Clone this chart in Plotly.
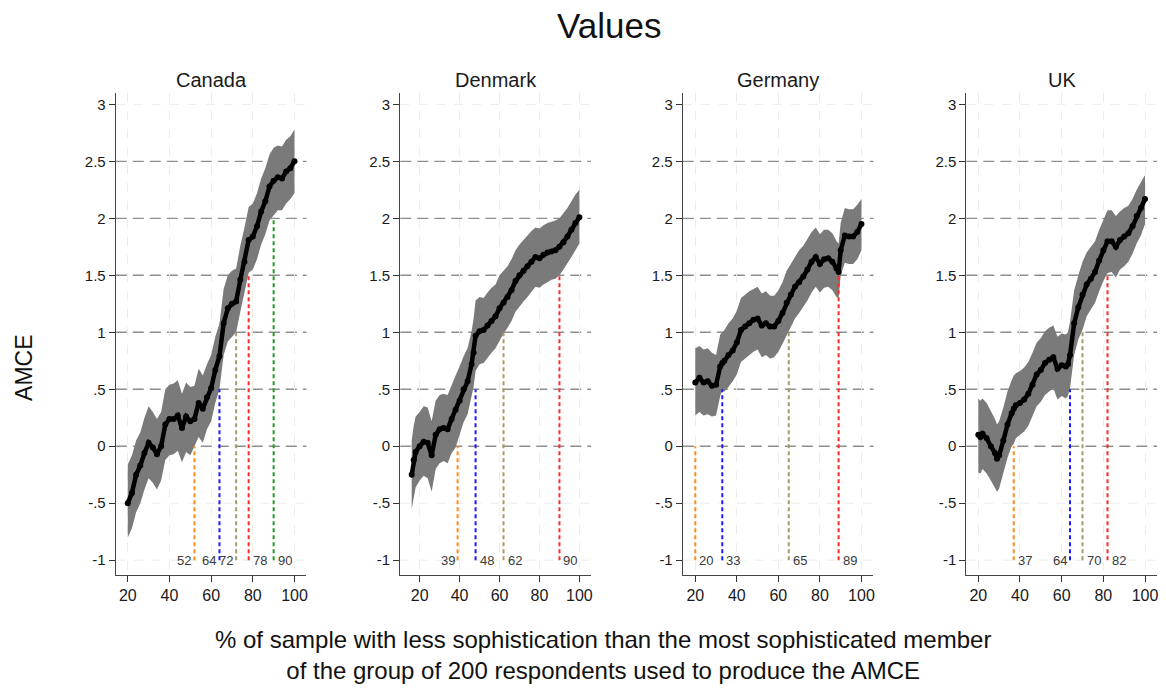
import plotly.graph_objects as go

# ---- data -----------------------------------------------------------------
COUNTRIES = ["Canada", "Denmark", "Germany", "UK"]

canada_x = [20, 22, 24, 26, 28, 30, 32, 34, 36, 38, 40, 42, 44, 46, 48, 50, 52, 54, 56, 58,
            60, 62, 64, 66, 68, 70, 72, 74, 76, 78, 80, 82, 84, 86, 88, 90, 92, 94, 96, 98, 100]
canada_amce = [-0.50, -0.41, -0.25, -0.17, -0.06, 0.03, -0.01, -0.07, 0.00, 0.19, 0.24, 0.24,
               0.27, 0.16, 0.26, 0.22, 0.24, 0.38, 0.33, 0.43, 0.51, 0.67, 0.79, 1.08, 1.21,
               1.25, 1.27, 1.46, 1.62, 1.81, 1.84, 1.93, 2.06, 2.15, 2.28, 2.33, 2.36, 2.35,
               2.41, 2.44, 2.50]
canada_lo = [-0.80, -0.72, -0.58, -0.50, -0.38, -0.28, -0.32, -0.38, -0.30, -0.12, -0.08, -0.07,
             -0.04, -0.14, -0.05, -0.08, 0.00, 0.08, 0.03, 0.15, 0.22, 0.38, 0.50, 0.80, 0.92,
             0.96, 1.00, 1.18, 1.34, 1.52, 1.55, 1.64, 1.77, 1.86, 1.98, 2.03, 2.07, 2.07,
             2.13, 2.17, 2.22]
canada_hi = [-0.16, -0.08, 0.05, 0.12, 0.25, 0.35, 0.30, 0.24, 0.30, 0.50, 0.54, 0.55,
             0.58, 0.46, 0.56, 0.52, 0.53, 0.68, 0.62, 0.72, 0.80, 0.96, 1.08, 1.38, 1.50,
             1.54, 1.56, 1.76, 1.92, 2.10, 2.13, 2.22, 2.35, 2.44, 2.56, 2.62, 2.64, 2.63,
             2.69, 2.72, 2.78]

denmark_x = [16, 17, 18, 20, 22, 24, 26, 28, 30, 32, 34, 36, 38, 40, 42, 44, 46, 47, 48, 50,
             52, 54, 56, 58, 60, 62, 64, 66, 68, 70, 72, 74, 76, 78, 80, 82, 84, 86, 88, 90,
             92, 94, 96, 98, 100]
denmark_amce = [-0.25, -0.12, -0.05, 0.00, 0.04, 0.03, -0.08, 0.10, 0.15, 0.16, 0.15, 0.24,
                0.32, 0.40, 0.50, 0.57, 0.72, 0.82, 0.97, 1.01, 1.02, 1.06, 1.10, 1.14, 1.21,
                1.26, 1.31, 1.37, 1.45, 1.50, 1.54, 1.58, 1.62, 1.66, 1.65, 1.68, 1.70, 1.71,
                1.72, 1.75, 1.79, 1.84, 1.90, 1.96, 2.01]
denmark_lo = [-0.55, -0.44, -0.36, -0.30, -0.26, -0.28, -0.40, -0.20, -0.15, -0.13, -0.15, -0.06,
              -0.01, 0.10, 0.21, 0.28, 0.43, 0.52, 0.66, 0.72, 0.73, 0.78, 0.82, 0.86, 0.93,
              0.99, 1.04, 1.10, 1.18, 1.23, 1.27, 1.31, 1.36, 1.40, 1.39, 1.42, 1.44, 1.46,
              1.47, 1.50, 1.55, 1.60, 1.66, 1.72, 1.78]
denmark_hi = [0.05, 0.18, 0.26, 0.30, 0.35, 0.34, 0.22, 0.40, 0.45, 0.46, 0.45, 0.54,
              0.62, 0.70, 0.79, 0.86, 1.01, 1.12, 1.28, 1.31, 1.30, 1.35, 1.39, 1.42, 1.50,
              1.54, 1.58, 1.64, 1.72, 1.77, 1.81, 1.85, 1.89, 1.92, 1.91, 1.94, 1.96, 1.97,
              1.98, 2.00, 2.04, 2.09, 2.15, 2.21, 2.25]

germany_x = [20, 22, 24, 26, 28, 30, 32, 33, 34, 36, 38, 40, 42, 44, 46, 48, 50, 52, 54, 56,
             58, 60, 62, 64, 66, 68, 70, 72, 74, 76, 78, 80, 82, 84, 86, 88, 89, 90, 92, 94,
             96, 98, 100]
germany_amce = [0.56, 0.60, 0.56, 0.57, 0.53, 0.54, 0.70, 0.73, 0.75, 0.80, 0.84, 0.91, 1.02,
                1.05, 1.08, 1.11, 1.12, 1.06, 1.08, 1.05, 1.05, 1.10, 1.17, 1.26, 1.33, 1.40,
                1.44, 1.49, 1.55, 1.62, 1.66, 1.60, 1.64, 1.65, 1.62, 1.56, 1.53, 1.72, 1.85,
                1.84, 1.84, 1.88, 1.95]
germany_lo = [0.27, 0.30, 0.27, 0.28, 0.26, 0.27, 0.44, 0.49, 0.48, 0.52, 0.57, 0.63, 0.74,
              0.77, 0.80, 0.83, 0.85, 0.78, 0.80, 0.77, 0.78, 0.83, 0.90, 0.97, 1.04, 1.12,
              1.17, 1.22, 1.28, 1.35, 1.40, 1.35, 1.39, 1.40, 1.37, 1.31, 1.30, 1.50, 1.61,
              1.60, 1.60, 1.64, 1.72]
germany_hi = [0.86, 0.88, 0.85, 0.86, 0.82, 0.80, 0.98, 1.00, 1.02, 1.08, 1.12, 1.19, 1.30,
              1.33, 1.36, 1.38, 1.40, 1.34, 1.36, 1.32, 1.32, 1.37, 1.44, 1.54, 1.60, 1.67,
              1.72, 1.76, 1.82, 1.88, 1.92, 1.86, 1.90, 1.90, 1.87, 1.80, 1.78, 1.96, 2.09,
              2.08, 2.08, 2.12, 2.17]

uk_x = [20, 21, 22, 24, 26, 28, 29, 30, 32, 34, 36, 37, 38, 40, 42, 44, 46, 48, 50, 52, 54,
        56, 58, 60, 62, 63, 64, 66, 68, 70, 72, 74, 76, 78, 80, 82, 84, 86, 88, 90, 92, 94,
        96, 98, 100]
uk_amce = [0.10, 0.08, 0.11, 0.07, 0.00, -0.06, -0.11, -0.08, 0.05, 0.19, 0.29, 0.33, 0.36,
           0.38, 0.41, 0.46, 0.54, 0.63, 0.67, 0.73, 0.76, 0.78, 0.68, 0.71, 0.70, 0.72,
           0.80, 1.08, 1.22, 1.33, 1.42, 1.47, 1.53, 1.63, 1.72, 1.80, 1.80, 1.75, 1.81,
           1.84, 1.87, 1.93, 2.02, 2.09, 2.17]
uk_lo = [-0.23, -0.24, -0.20, -0.24, -0.30, -0.36, -0.40, -0.37, -0.24, -0.10, 0.00, 0.02,
         0.07, 0.10, 0.13, 0.18, 0.26, 0.35, 0.39, 0.45, 0.48, 0.51, 0.41, 0.44, 0.42, 0.44,
         0.51, 0.80, 0.94, 1.02, 1.14, 1.20, 1.26, 1.36, 1.45, 1.52, 1.53, 1.48, 1.55,
         1.58, 1.62, 1.69, 1.78, 1.85, 1.95]
uk_hi = [0.42, 0.40, 0.42, 0.38, 0.31, 0.24, 0.19, 0.22, 0.34, 0.48, 0.58, 0.62, 0.64,
         0.66, 0.69, 0.74, 0.82, 0.91, 0.95, 1.01, 1.04, 1.06, 0.96, 0.99, 0.98, 1.00,
         1.09, 1.37, 1.50, 1.62, 1.70, 1.75, 1.80, 1.90, 1.99, 2.07, 2.07, 2.02, 2.06,
         2.09, 2.11, 2.17, 2.25, 2.31, 2.38]

# AMCE thresholds and the x at which the lower bound first clears each one
THRESHOLDS = [0, 0.5, 1, 1.5, 2, 2.5]
THRESHOLD_COLORS = ["#ff8c1a", "#1a1aff", "#a8996b", "#ff2a2a", "#229922"]
canada_cross = [52, 64, 72, 78, 90]
denmark_cross = [39, 48, 62, 90]
germany_cross = [20, 33, 65, 89]
uk_cross = [37, 64, 70, 82]
# side of the dotted line on which each crossing label sits
canada_side = ["l", "l", "l", "r", "r"]
denmark_side = ["l", "r", "r", "r"]
germany_side = ["r", "r", "r", "r"]
uk_side = ["r", "l", "r", "r"]

Y_TICKS = [-1, -0.5, 0, 0.5, 1, 1.5, 2, 2.5, 3]
Y_TICK_TEXT = ["-1", "-.5", "0", ".5", "1", "1.5", "2", "2.5", "3"]
X_TICKS = [20, 40, 60, 80, 100]

X_TITLE = ("% of sample with less sophistication than the most sophisticated member"
           "<br>of the group of 200 respondents used to produce the AMCE")

panels = [
    (canada_x, canada_amce, canada_lo, canada_hi, canada_cross, canada_side, [14.25, 105.75]),
    (denmark_x, denmark_amce, denmark_lo, denmark_hi, denmark_cross, denmark_side, [10.3, 105.8]),
    (germany_x, germany_amce, germany_lo, germany_hi, germany_cross, germany_side, [14.0, 105.8]),
    (uk_x, uk_amce, uk_lo, uk_hi, uk_cross, uk_side, [14.25, 105.75]),
]

# ---- layout geometry (pixels) ---------------------------------------------
W, H = 1166, 690
panel_left = [116, 401, 684, 968]
panel_w = 191
plot_top, plot_bottom = 93, 575
FONT = "Arial, Liberation Sans, Helvetica, sans-serif"

fig = go.Figure()
shapes = []
annotations = []

for i, (name, (xs, m, lo, hi, cross, side, xr)) in enumerate(zip(COUNTRIES, panels)):
    sfx = "" if i == 0 else str(i + 1)
    xa, ya = "x" + sfx, "y" + sfx

    # confidence band
    fig.add_trace(go.Scatter(x=xs, y=lo, xaxis=xa, yaxis=ya, mode="lines",
                             line=dict(width=0, color="#7a7a7a"), showlegend=False,
                             hoverinfo="skip"))
    fig.add_trace(go.Scatter(x=xs, y=hi, xaxis=xa, yaxis=ya, mode="lines", fill="tonexty",
                             fillcolor="#7a7a7a", line=dict(width=0, color="#7a7a7a"),
                             showlegend=False, hoverinfo="skip"))

    # faint grid at the ticks that carry no threshold line
    for t in Y_TICKS:
        if t not in THRESHOLDS:
            shapes.append(dict(type="line", xref=xa + " domain", yref=ya, x0=0, x1=1,
                               y0=t, y1=t, line=dict(color="#ececec", width=1, dash="dash"),
                               layer="below"))
    # threshold reference lines
    for t in THRESHOLDS:
        shapes.append(dict(type="line", xref=xa + " domain", yref=ya, x0=0, x1=1, y0=t, y1=t,
                           line=dict(color="#8e8e8e", width=1.4, dash="11px,6px"),
                           layer="below"))

    # crossing markers (dotted drop lines + value labels)
    for k, (cx, sd) in enumerate(zip(cross, side)):
        fig.add_trace(go.Scatter(x=[cx, cx], y=[-1, THRESHOLDS[k]], xaxis=xa, yaxis=ya,
                                 mode="lines", showlegend=False, hoverinfo="skip",
                                 line=dict(color=THRESHOLD_COLORS[k], width=2,
                                           dash="4px,3px")))
        annotations.append(dict(x=cx, y=-1, xref=xa, yref=ya, text=str(cx), showarrow=False,
                                xanchor="right" if sd == "l" else "left",
                                xshift=-1 if sd == "l" else 2, yanchor="middle",
                                font=dict(family=FONT, size=13, color="#3a3a3a")))

    # point estimates
    fig.add_trace(go.Scatter(x=xs, y=m, xaxis=xa, yaxis=ya, mode="lines+markers",
                             line=dict(width=4.5, color="black"),
                             marker=dict(size=6, color="black"), showlegend=False))

    x0 = panel_left[i] / W
    x1 = (panel_left[i] + panel_w) / W
    fig.layout["xaxis" + sfx] = dict(
        domain=[x0, x1], range=xr, anchor=ya, tickvals=X_TICKS, ticks="outside", ticklen=6,
        tickcolor="#333", showline=True, linecolor="#444", linewidth=1.2, zeroline=False,
        showgrid=True, gridcolor="#ececec", griddash="dash", gridwidth=1,
        tickfont=dict(family=FONT, size=16, color="#1a1a1a"))
    fig.layout["yaxis" + sfx] = dict(
        domain=[1 - plot_bottom / H, 1 - plot_top / H], range=[-1.13, 3.1], anchor=xa,
        tickvals=Y_TICKS, ticktext=Y_TICK_TEXT, ticks="outside", ticklen=6, tickcolor="#333",
        showline=True, linecolor="#444", linewidth=1.2, zeroline=False, showgrid=False,
        tickfont=dict(family=FONT, size=15, color="#1a1a1a"))

    annotations.append(dict(x=(x0 + x1) / 2, y=1 - 80 / H, xref="paper", yref="paper",
                            text=name, showarrow=False, xanchor="center", yanchor="middle",
                            font=dict(family=FONT, size=20, color="#1a1a1a")))

annotations += [
    dict(x=610 / W, y=1 - 25 / H, xref="paper", yref="paper", text="Values", showarrow=False,
         xanchor="center", yanchor="middle", font=dict(family=FONT, size=35, color="#111")),
    dict(x=24 / W, y=1 - 368 / H, xref="paper", yref="paper", text="AMCE", showarrow=False,
         textangle=-90, xanchor="center", yanchor="middle",
         font=dict(family=FONT, size=23, color="#111")),
    dict(x=604 / W, y=1 - 655 / H, xref="paper", yref="paper", text=X_TITLE,
         showarrow=False, xanchor="center", yanchor="middle",
         font=dict(family=FONT, size=24, color="#111")),
]

fig.update_layout(width=W, height=H, margin=dict(l=0, r=0, t=0, b=0),
                  paper_bgcolor="white", plot_bgcolor="white",
                  shapes=shapes, annotations=annotations, showlegend=False)

fig.write_html("out.html")
